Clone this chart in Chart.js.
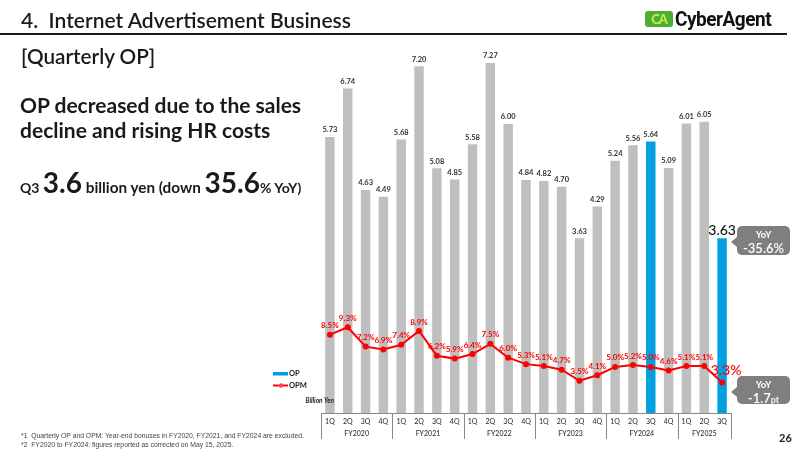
<!DOCTYPE html>
<html>
<head>
<meta charset="utf-8">
<script src="https://cdn.jsdelivr.net/npm/chart.js@4.4.1/dist/chart.umd.min.js"></script>
<style>
    html, body { margin: 0; padding: 0; }
    body { width: 800px; height: 450px; position: relative; overflow: hidden; background: #ffffff; font-family: Lato, "Noto Sans", sans-serif; color: #1a1a1a; }
    #chartCanvas { position: absolute; left: 0; top: 0; }
    .abs { position: absolute; white-space: nowrap; }
    .title { left: 21px; top: 7px; font-size: 21px; font-weight: 600; }
    .rule { left: 0; top: 33px; width: 787px; height: 2px; background: #1a1a1a; }
    .logo-icon { left: 645px; top: 11px; width: 28px; height: 16px; background: #4caf32; border-radius: 3px; color: #c6e84a; font: 900 13px Lato, sans-serif; line-height: 16px; text-align: center; letter-spacing: -1px; }
    .logo-text { left: 675px; top: 7px; font: 700 20px Roboto, sans-serif; letter-spacing: -0.5px; transform: scaleX(0.95); transform-origin: left; color: #111; }
    .sub { left: 21px; top: 44px; font-size: 20.7px; font-weight: 600; }
    .head { left: 20px; top: 92px; font-size: 21px; font-weight: 700; line-height: 25px; }
    .q3 { left: 20px; top: 165px; font-weight: 700; }
    .q3 .s { font-size: 14px; }
    .q3 .m { font-size: 15.3px; }
    .q3 .b { font-size: 28px; }
    .callout { background: #7f7f7f; color: #fff; border-radius: 5px; text-align: center; width: 53px; }
    .callout:before { content: ""; position: absolute; left: -6px; top: 11px; border-top: 5px solid transparent; border-bottom: 5px solid transparent; border-right: 6px solid #7f7f7f; }
    .callout .y { font-size: 9.5px; font-weight: 700; line-height: 12px; padding-top: 3px; }
    .callout .v { font-size: 13px; font-weight: 600; line-height: 15px; }
    .foot { left: 21px; top: 431px; font-size: 6.8px; line-height: 9px; color: #444; font-family: "Liberation Sans", sans-serif; }
    .page { left: 779px; top: 431px; font-size: 11px; font-weight: 700; color: #222; }
</style>
</head>
<body>
<canvas id="chartCanvas" width="800" height="450"></canvas>

<div class="abs title">4.&nbsp; Internet Advertisement Business</div>
<div class="abs rule"></div>
<div class="abs logo-icon">CA</div>
<div class="abs logo-text">CyberAgent<span style="font-size:6px;">.</span></div>

<div class="abs sub">[Quarterly OP]</div>
<div class="abs head">OP decreased due to the sales<br>decline and rising HR costs</div>
<div class="abs q3"><span class="s">Q3 </span><span class="b">3.6</span><span class="m"> billion yen (down </span><span class="b">35.6</span><span class="s">% YoY)</span></div>

<div class="abs callout" style="left:737px; top:226px; height:29px;">
    <div class="y">YoY</div>
    <div class="v">-35.6%</div>
</div>
<div class="abs callout" style="left:737px; top:376px; height:28px;">
    <div class="y">YoY</div>
    <div class="v">-1.7<span style="font-size:9px;">pt</span></div>
</div>

<div class="abs foot">*1&nbsp; Quarterly OP and OPM: Year-end bonuses in FY2020, FY2021, and FY2024 are excluded.<br>*2&nbsp; FY2020 to FY2024: figures reported as corrected on May 15, 2025.</div>
<div class="abs page">26</div>

<script>
const quarters = ['1Q', '2Q', '3Q', '4Q', '1Q', '2Q', '3Q', '4Q', '1Q', '2Q', '3Q', '4Q',
    '1Q', '2Q', '3Q', '4Q', '1Q', '2Q', '3Q', '4Q', '1Q', '2Q', '3Q'];
const fiscalYears = ['FY2020', 'FY2021', 'FY2022', 'FY2023', 'FY2024', 'FY2025'];
const quartersPerYear = [4, 4, 4, 4, 4, 3];
const opValues = [5.73, 6.74, 4.63, 4.49, 5.68, 7.20, 5.08, 4.85, 5.58, 7.27, 6.00, 4.84,
    4.82, 4.70, 3.63, 4.29, 5.24, 5.56, 5.64, 5.09, 6.01, 6.05, 3.63];
const opmValues = [8.5, 9.3, 7.2, 6.9, 7.4, 8.9, 6.2, 5.9, 6.4, 7.5, 6.0, 5.3,
    5.1, 4.7, 3.5, 4.1, 5.0, 5.2, 5.0, 4.6, 5.1, 5.1, 3.3];
const highlighted = [18, 22];

const GRAY = '#bfbfbf';
const BLUE = '#00a0e0';
const RED = '#ff0000';
const lastIdx = opValues.length - 1;

const labelsPlugin = {
    id: 'labelsPlugin',
    afterDatasetsDraw(chart) {
        const ctx = chart.ctx;
        const barMeta = chart.getDatasetMeta(1);
        const lineMeta = chart.getDatasetMeta(0);
        ctx.save();
        ctx.textAlign = 'center';
        ctx.textBaseline = 'middle';

        // bar value labels
        barMeta.data.forEach((bar, i) => {
            if (i === lastIdx) {
                ctx.font = '500 14px Lato, sans-serif';
                ctx.fillStyle = '#111';
                ctx.fillText(opValues[i].toFixed(2), bar.x, bar.y - 8);
            } else {
                ctx.font = '700 7.5px Lato, sans-serif';
                ctx.fillStyle = '#333';
                ctx.fillText(opValues[i].toFixed(2), bar.x, bar.y - 7);
            }
        });

        // OPM labels
        lineMeta.data.forEach((pt, i) => {
            ctx.fillStyle = RED;
            if (i === lastIdx) {
                ctx.font = '500 14px Lato, sans-serif';
                ctx.fillText(opmValues[i].toFixed(1) + '%', pt.x + 4, pt.y - 12);
            } else {
                ctx.font = '700 8px Lato, sans-serif';
                ctx.fillText(opmValues[i].toFixed(1) + '%', pt.x, pt.y - 9);
            }
        });

        // x-axis table
        const xs = chart.scales.x;
        const area = chart.chartArea;
        const step = xs.getPixelForValue(1) - xs.getPixelForValue(0);
        ctx.strokeStyle = '#888';
        ctx.lineWidth = 1;
        ctx.beginPath();
        ctx.moveTo(area.left, area.bottom + 0.5);
        ctx.lineTo(area.right, area.bottom + 0.5);
        ctx.stroke();

        ctx.font = '500 7px Lato, sans-serif';
        ctx.fillStyle = '#333';
        quarters.forEach((q, i) => {
            ctx.fillText(q, xs.getPixelForValue(i), area.bottom + 9);
        });

        let start = 0;
        fiscalYears.forEach((fy, k) => {
            const n = quartersPerYear[k];
            const left = xs.getPixelForValue(start) - step / 2;
            const right = xs.getPixelForValue(start + n - 1) + step / 2;
            ctx.fillText(fy, (left + right) / 2, area.bottom + 21);
            ctx.beginPath();
            ctx.moveTo(Math.round(left) + 0.5, area.bottom);
            ctx.lineTo(Math.round(left) + 0.5, area.bottom + 26);
            ctx.stroke();
            if (k === fiscalYears.length - 1) {
                ctx.beginPath();
                ctx.moveTo(Math.round(right) + 0.5, area.bottom);
                ctx.lineTo(Math.round(right) + 0.5, area.bottom + 26);
                ctx.stroke();
            }
            start += n;
        });

        // legend
        ctx.textAlign = 'left';
        ctx.fillStyle = BLUE;
        ctx.fillRect(273, 372, 15, 3.5);
        ctx.fillStyle = '#222';
        ctx.font = '700 7.5px Lato, sans-serif';
        ctx.fillText('OP', 289, 374);
        ctx.strokeStyle = RED;
        ctx.lineWidth = 2;
        ctx.beginPath();
        ctx.moveTo(273, 385.5);
        ctx.lineTo(288, 385.5);
        ctx.stroke();
        ctx.fillStyle = '#ff3b6e';
        ctx.beginPath();
        ctx.arc(281, 385.5, 2.2, 0, Math.PI * 2);
        ctx.fill();
        ctx.fillStyle = '#222';
        ctx.fillText('OPM', 289, 386);

        ctx.textAlign = 'right';
        ctx.font = 'italic 700 6.5px Lato, sans-serif';
        ctx.fillStyle = '#222';
        ctx.fillText('Billion Yen', 334, 401);
        ctx.restore();
    }
};

const ctx = document.getElementById('chartCanvas').getContext('2d');
new Chart(ctx, {
    data: {
        labels: quarters,
        datasets: [
            {
                type: 'line',
                label: 'OPM',
                data: opmValues,
                yAxisID: 'y2',
                borderColor: RED,
                backgroundColor: RED,
                borderWidth: 2,
                pointRadius: 3,
                pointBackgroundColor: RED,
                pointBorderWidth: 0,
                tension: 0,
                order: 0,
            },
            {
                type: 'bar',
                label: 'OP',
                data: opValues,
                yAxisID: 'y',
                backgroundColor: opValues.map((v, i) => highlighted.includes(i) ? BLUE : GRAY),
                barPercentage: 0.53,
                categoryPercentage: 1,
                order: 1,
            },
        ],
    },
    options: {
        responsive: false,
        animation: false,
        layout: { padding: { left: 321, right: 69, top: 47, bottom: 37 } },
        plugins: {
            legend: { display: false },
            tooltip: { enabled: false },
        },
        scales: {
            x: { display: false, offset: true },
            y: { display: false, min: 0, max: 7.6 },
            y2: { display: false, min: 0, max: 39.7, position: 'right' },
        },
    },
    plugins: [labelsPlugin],
});
</script>
</body>
</html>
